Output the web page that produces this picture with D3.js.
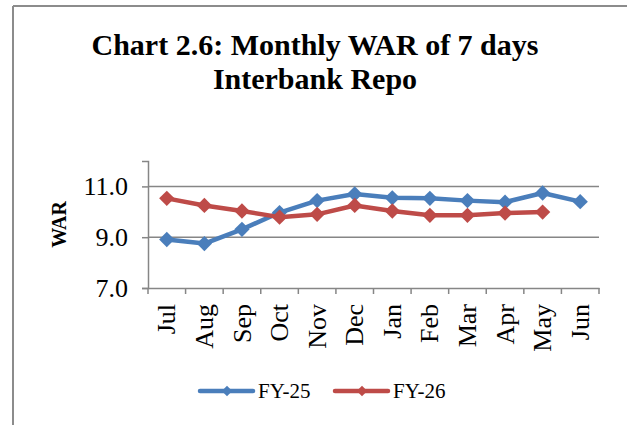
<!DOCTYPE html>
<html>
<head>
<meta charset="utf-8">
<script src="https://cdn.jsdelivr.net/npm/d3@7"></script>
<style>
  body { margin: 0; background: #fff; }
  text { font-family: "Liberation Serif", "Times New Roman", serif; }
</style>
</head>
<body>
<div id="chart-container"></div>
<script>
// data
const months = ["Jul", "Aug", "Sep", "Oct", "Nov", "Dec", "Jan", "Feb", "Mar", "Apr", "May", "Jun"];
const fy25 = [8.91, 8.75, 9.31, 9.97, 10.44, 10.70, 10.55, 10.53, 10.44, 10.38, 10.74, 10.40];
const fy26 = [10.53, 10.25, 10.03, 9.79, 9.90, 10.25, 10.03, 9.86, 9.86, 9.95, 9.99];
const yTicks = [7, 9, 11];
const seriesNames = ["FY-25", "FY-26"];
const colors = ["#4a7ebb", "#be4b48"];

const W = 627, H = 425;
const margin = { top: 161, right: 28, bottom: 137, left: 148 };
const width = W - margin.left - margin.right;
const height = H - margin.top - margin.bottom;

const svg = d3.select("#chart-container")
  .append("svg")
  .attr("width", W)
  .attr("height", H);

// outer frame (only top and left edges are visible)
svg.append("line").attr("x1", 13).attr("y1", 6).attr("x2", W).attr("y2", 6)
  .attr("stroke", "#8c8c8c").attr("stroke-width", 2);
svg.append("line").attr("x1", 13).attr("y1", 6).attr("x2", 13).attr("y2", H)
  .attr("stroke", "#8c8c8c").attr("stroke-width", 2);

// title
const title = svg.append("text")
  .attr("x", 315)
  .attr("y", 55)
  .style("text-anchor", "middle")
  .style("font-size", "30px")
  .style("font-weight", "bold");
title.append("tspan").attr("x", 315).text("Chart 2.6: Monthly WAR of 7 days");
title.append("tspan").attr("x", 315).attr("dy", 34).text("Interbank Repo");

const g = svg.append("g")
  .attr("transform", `translate(${margin.left},${margin.top})`);

const x = d3.scaleBand().domain(months).range([0, width]);
const y = d3.scaleLinear().domain([7, 12]).range([height, 0]);

// gridlines
g.selectAll(".grid")
  .data(yTicks.filter(d => d > 7))
  .enter().append("line")
  .attr("x1", 0).attr("x2", width)
  .attr("y1", d => y(d)).attr("y2", d => y(d))
  .attr("stroke", "#868686").attr("stroke-width", 1.5);

// y axis
const yAxis = g.append("g")
  .call(d3.axisLeft(y).tickValues(yTicks).tickFormat(d3.format(".1f")).tickSize(6).tickPadding(14));
yAxis.select(".domain").attr("stroke", "#868686").attr("stroke-width", 1.5);
yAxis.selectAll(".tick line").attr("stroke", "#868686").attr("stroke-width", 1.5);
yAxis.selectAll("text").style("font-size", "26px").attr("fill", "#000")
  .style("font-family", "'Liberation Serif', serif");

// x axis
const xAxis = g.append("g")
  .attr("transform", `translate(0,${height})`)
  .call(d3.axisBottom(x).tickSize(0));
xAxis.select(".domain").attr("stroke", "#868686").attr("stroke-width", 1.5);
xAxis.selectAll(".tick text")
  .style("font-size", "26px")
  .style("font-family", "'Liberation Serif', serif")
  .attr("fill", "#000")
  .attr("transform", "rotate(-90)")
  .attr("x", -16)
  .attr("y", 0)
  .attr("dy", "0.33em")
  .style("text-anchor", "end");
// category boundary ticks
xAxis.selectAll(".bound")
  .data(d3.range(months.length + 1))
  .enter().append("line")
  .attr("x1", i => i * x.bandwidth()).attr("x2", i => i * x.bandwidth())
  .attr("y1", 0).attr("y2", 6)
  .attr("stroke", "#868686").attr("stroke-width", 1.5);

// y label
svg.append("text")
  .attr("transform", `translate(66,${margin.top + y(9.5)}) rotate(-90)`)
  .style("text-anchor", "middle")
  .style("font-size", "20px")
  .style("font-weight", "bold")
  .text("WAR");

// lines
const line = d3.line()
  .x((d, i) => x(months[i]) + x.bandwidth() / 2)
  .y(d => y(d));
const diamond = d3.symbol().type(d3.symbolDiamond2).size(150);

[fy25, fy26].forEach((vals, k) => {
  g.append("path")
    .datum(vals)
    .attr("fill", "none")
    .attr("stroke", colors[k])
    .attr("stroke-width", 4.5)
    .attr("stroke-linejoin", "round")
    .attr("d", line);
  g.selectAll(".pt" + k)
    .data(vals)
    .enter().append("path")
    .attr("d", diamond)
    .attr("transform", (d, i) => `translate(${x(months[i]) + x.bandwidth() / 2},${y(d)})`)
    .attr("fill", colors[k]);
});

// legend
const legendX = [200, 335];
seriesNames.forEach((name, k) => {
  const lg = svg.append("g").attr("transform", `translate(${legendX[k]},391)`);
  lg.append("line").attr("x1", 0).attr("x2", 53).attr("y1", 0).attr("y2", 0)
    .attr("stroke", colors[k]).attr("stroke-width", 4.5).attr("stroke-linecap", "round");
  lg.append("path").attr("d", d3.symbol().type(d3.symbolDiamond2).size(70))
    .attr("transform", "translate(27,0)").attr("fill", colors[k]);
  lg.append("text").attr("x", 58).attr("y", 7).style("font-size", "21px").text(name);
});
</script>
</body>
</html>
